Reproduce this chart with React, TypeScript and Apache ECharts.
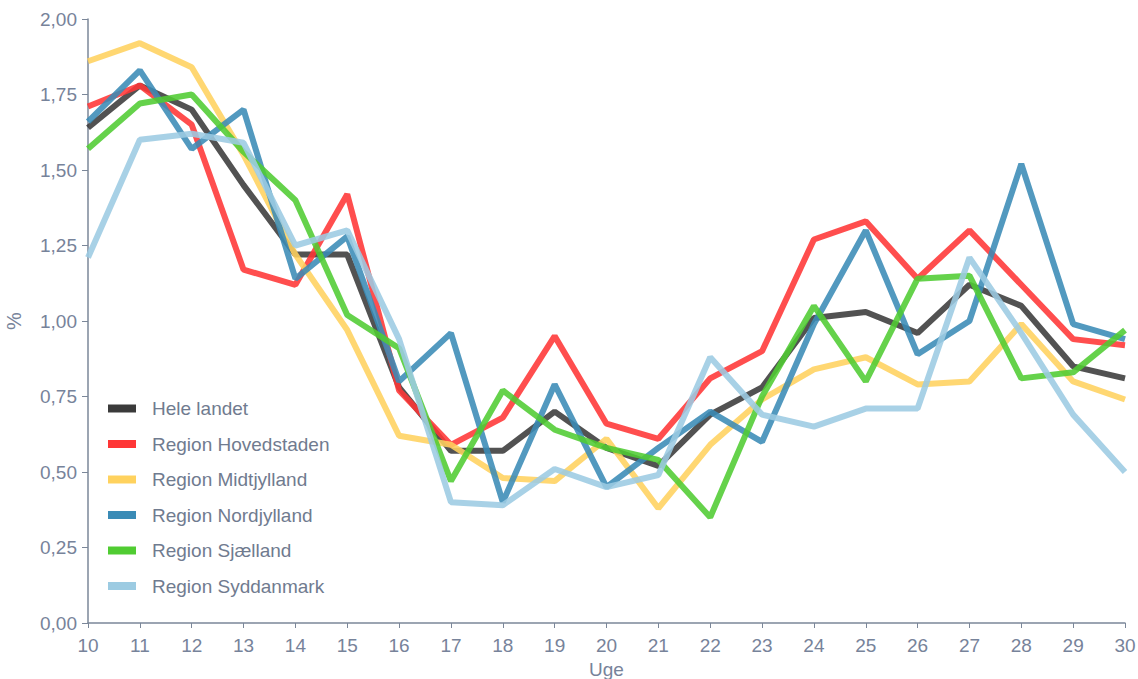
import React, { useEffect, useRef } from "react";
import * as echarts from "echarts";

const weeks = [10, 11, 12, 13, 14, 15, 16, 17, 18, 19, 20, 21, 22, 23, 24, 25, 26, 27, 28, 29, 30];

const seriesNames = [
  "Hele landet",
  "Region Hovedstaden",
  "Region Midtjylland",
  "Region Nordjylland",
  "Region Sjælland",
  "Region Syddanmark",
];

const heleLandet = [1.64, 1.78, 1.70, 1.45, 1.22, 1.22, 0.78, 0.57, 0.57, 0.70, 0.58, 0.52, 0.69, 0.78, 1.01, 1.03, 0.96, 1.12, 1.05, 0.85, 0.81];
const hovedstaden = [1.71, 1.78, 1.65, 1.17, 1.12, 1.42, 0.77, 0.59, 0.68, 0.95, 0.66, 0.61, 0.81, 0.90, 1.27, 1.33, 1.14, 1.30, 1.12, 0.94, 0.92];
const midtjylland = [1.86, 1.92, 1.84, 1.55, 1.22, 0.97, 0.62, 0.59, 0.48, 0.47, 0.61, 0.38, 0.59, 0.74, 0.84, 0.88, 0.79, 0.80, 0.99, 0.80, 0.74];
const nordjylland = [1.66, 1.83, 1.57, 1.70, 1.14, 1.28, 0.80, 0.96, 0.40, 0.79, 0.45, 0.58, 0.70, 0.60, 0.99, 1.30, 0.89, 1.00, 1.52, 0.99, 0.94];
const sjaelland = [1.57, 1.72, 1.75, 1.56, 1.40, 1.02, 0.91, 0.47, 0.77, 0.64, 0.58, 0.54, 0.35, 0.75, 1.05, 0.80, 1.14, 1.15, 0.81, 0.83, 0.97];
const syddanmark = [1.21, 1.60, 1.62, 1.59, 1.25, 1.30, 0.94, 0.40, 0.39, 0.51, 0.45, 0.49, 0.88, 0.69, 0.65, 0.71, 0.71, 1.21, 0.96, 0.69, 0.50];

const allValues = [heleLandet, hovedstaden, midtjylland, nordjylland, sjaelland, syddanmark];
const colors = ["#3a3a3a", "#ff3636", "#ffd25e", "#3a8bb6", "#50cc32", "#9ccbe2"];

const axisColor = "#7b8799";
const labelColor = "#77839a";
const fontFamily = "'Liberation Sans', Arial, sans-serif";

export default function App() {
  const ref = useRef<HTMLDivElement>(null);

  useEffect(() => {
    if (!ref.current) return;
    const chart = echarts.init(ref.current, undefined, { renderer: "svg" });
    const fmt = (v: number) => v.toFixed(2).replace(".", ",");
    chart.setOption({
      animation: false,
      backgroundColor: "#ffffff",
      textStyle: { fontFamily },
      grid: { left: 88, right: 13, top: 19, bottom: 56, containLabel: false, outerBoundsMode: "none" },
      legend: {
        orient: "vertical",
        left: 103,
        top: 394,
        icon: "rect",
        itemWidth: 28,
        itemHeight: 8,
        itemGap: 16.5,
        textStyle: { color: "#707b8f", fontSize: 19, fontFamily, padding: [0, 0, 0, 11] },
        data: seriesNames,
      },
      xAxis: {
        type: "value",
        min: 10,
        max: 30,
        interval: 1,
        name: "Uge",
        nameLocation: "middle",
        nameGap: 27,
        nameTextStyle: { color: labelColor, fontSize: 19, fontFamily, lineHeight: 19 },
        axisLine: { show: true, lineStyle: { color: axisColor, width: 1.5 } },
        axisTick: { show: true, length: 5, lineStyle: { color: axisColor } },
        axisLabel: { color: labelColor, fontSize: 19, margin: 13, fontFamily },
        splitLine: { show: false },
      },
      yAxis: {
        type: "value",
        min: 0,
        max: 2,
        interval: 0.25,
        name: "%",
        nameLocation: "middle",
        nameGap: 64,
        nameRotate: 90,
        nameTextStyle: { color: labelColor, fontSize: 20, fontFamily },
        axisLine: { show: true, lineStyle: { color: axisColor, width: 1.5 } },
        axisTick: { show: true, length: 6, lineStyle: { color: axisColor } },
        axisLabel: { color: labelColor, fontSize: 19, margin: 11, fontFamily, formatter: fmt },
        splitLine: { show: false },
      },
      series: seriesNames.map((name, i) => ({
        name,
        type: "line",
        data: weeks.map((w, j) => [w, allValues[i][j]]),
        showSymbol: false,
        symbol: "none",
        color: colors[i],
        lineStyle: { width: 6, color: colors[i], opacity: 0.88 },
        itemStyle: { color: colors[i] },
      })),
    });
    return () => chart.dispose();
  }, []);

  return (
    <div
      ref={ref}
      style={{ position: "fixed", left: 0, top: 0, width: 1138, height: 679, overflow: "hidden" }}
    />
  );
}
